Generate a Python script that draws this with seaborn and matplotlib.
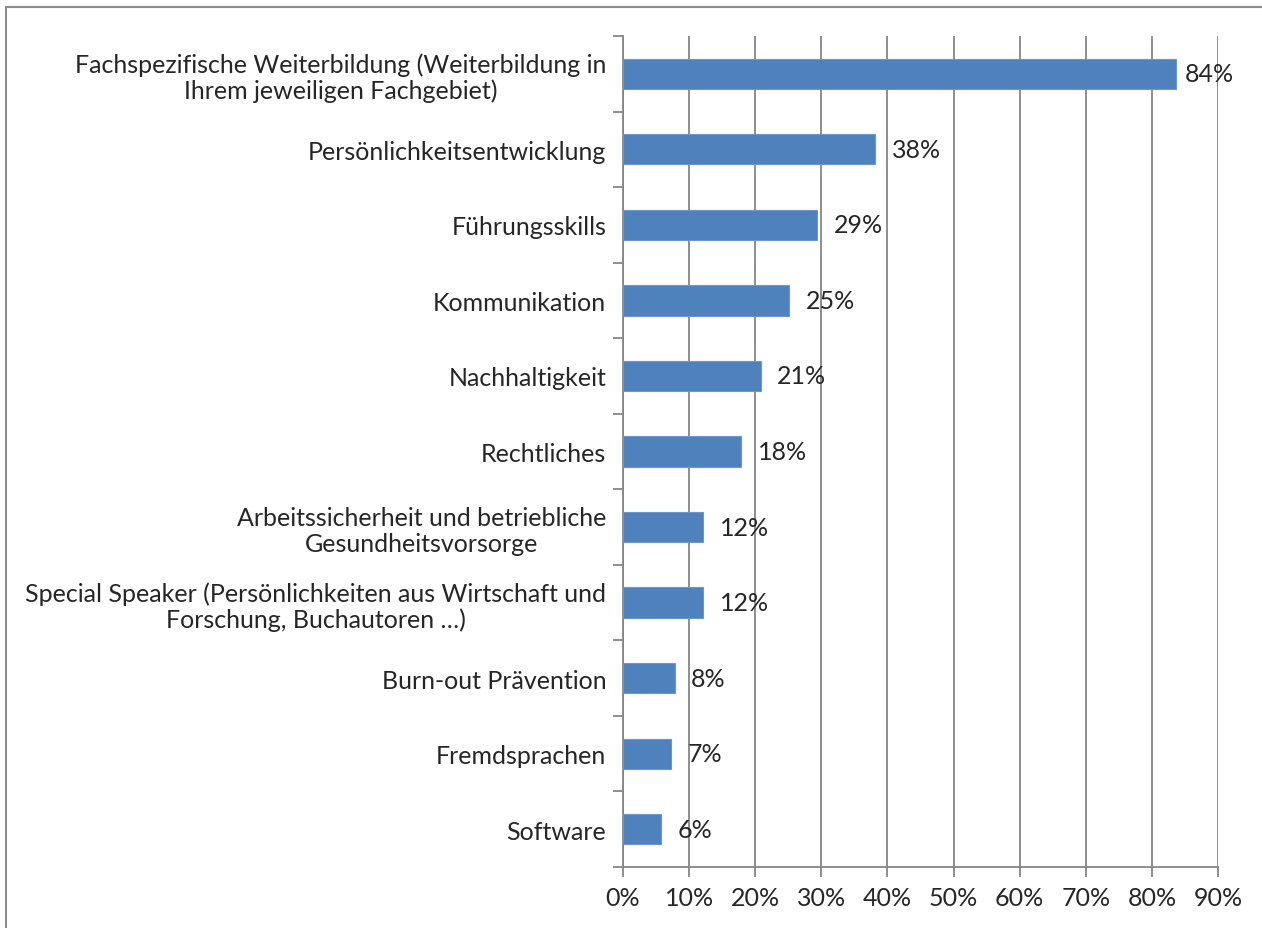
import matplotlib
matplotlib.use('Agg')
import matplotlib.pyplot as plt
from matplotlib.patches import Rectangle
import seaborn as sns
import pandas as pd

# data (bar lengths in percent)
categories = [
    "Fachspezifische Weiterbildung (Weiterbildung in\nIhrem jeweiligen Fachgebiet)",
    "Persönlichkeitsentwicklung",
    "Führungsskills",
    "Kommunikation",
    "Nachhaltigkeit",
    "Rechtliches",
    "Arbeitssicherheit und betriebliche\nGesundheitsvorsorge",
    "Special Speaker (Persönlichkeiten aus Wirtschaft und\nForschung, Buchautoren …)",
    "Burn-out Prävention",
    "Fremdsprachen",
    "Software",
]
values = [83.7, 38.1, 29.4, 25.1, 20.8, 17.9, 12.1, 12.1, 7.8, 7.3, 5.8]
labels = ["84%", "38%", "29%", "25%", "21%", "18%", "12%", "12%", "8%", "7%", "6%"]
x_ticks = [0, 10, 20, 30, 40, 50, 60, 70, 80, 90]

df = pd.DataFrame({"category": categories, "value": values})

sns.set_style("white")
plt.rcParams['font.family'] = ['Lato', 'DejaVu Sans']
fs = 18

fig = plt.figure(figsize=(12.62, 9.29), dpi=100)
ax = fig.add_axes([623 / 1262, 1 - 868 / 929, (1218 - 623) / 1262, (868 - 37) / 929])

grid_col = "#868686"
sns.barplot(data=df, x="value", y="category", orient="h", color="#4F81BD",
            saturation=1, width=0.4, ax=ax, zorder=3, edgecolor="#6d97cc", linewidth=0.8)

ax.set_xlim(0, 90)
ax.set_ylim(len(categories) - 0.5, -0.5)
ax.set_xticks(x_ticks)
ax.set_xticklabels([f"{t}%" for t in x_ticks], fontsize=fs)
ax.set_xlabel("")
ax.set_ylabel("")

# category labels at bar centres, tick marks at category boundaries
ax.set_yticks(range(len(categories)))
ax.set_yticklabels(categories, fontsize=fs, multialignment="center", linespacing=1.15)
ax.tick_params(axis="y", which="major", length=0, pad=12)
ax.set_yticks([i - 0.5 for i in range(len(categories) + 1)], minor=True)
ax.tick_params(axis="y", which="minor", length=7, width=1.3, color=grid_col, direction="out", left=True)
ax.tick_params(axis="x", which="major", length=7, width=1.3, color=grid_col, direction="out",
               bottom=True, pad=7)

ax.grid(axis="x", color=grid_col, linewidth=1.3, zorder=0)
ax.grid(axis="y", visible=False)
for side in ["top", "right"]:
    ax.spines[side].set_visible(False)
for side in ["left", "bottom"]:
    ax.spines[side].set_color(grid_col)
    ax.spines[side].set_linewidth(1.3)
ax.set_axisbelow(True)

# value labels; the long bar's label is pulled in like Excel does near the edge
for i, (v, lab) in enumerate(zip(values, labels)):
    off = 6 if v > 80 else 12
    ax.annotate(lab, xy=(v, i), xytext=(off, 0), textcoords="offset points",
                va="center", ha="left", fontsize=fs, zorder=4)

# outer frame of the chart area
fig.patches.append(Rectangle((6 / 1262, -0.1), 1.2, 1 - 8 / 929 + 0.1, transform=fig.transFigure,
                             fill=False, edgecolor="#8c8c8c", linewidth=1.5))

fig.savefig("out.png", dpi=100)
